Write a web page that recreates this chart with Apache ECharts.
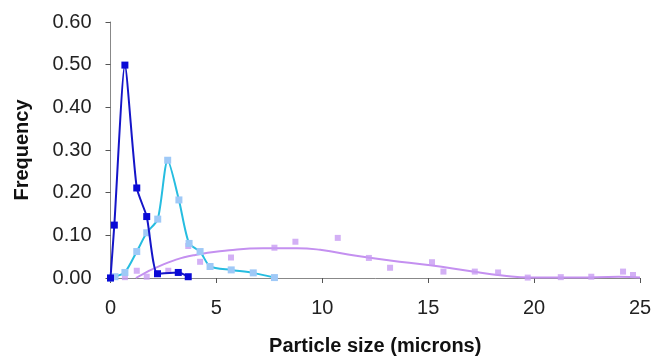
<!DOCTYPE html>
<html>
<head>
<meta charset="utf-8">
<script src="https://cdn.jsdelivr.net/npm/echarts@6/dist/echarts.min.js"></script>
<style>
  html, body { margin: 0; padding: 0; background: #fff; }
  #chart { width: 653px; height: 358px; }
</style>
</head>
<body>
<div id="chart"></div>
<script>
// size (microns), frequency pairs
const darkSeries = [
  [0.0, 0.000], [0.18, 0.124], [0.68, 0.499], [1.24, 0.211],
  [1.71, 0.144], [2.22, 0.010], [3.2, 0.013], [3.67, 0.003]
];
const cyanSeries = [
  [0.0, 0.000], [0.21, 0.003], [0.68, 0.013], [1.24, 0.062],
  [1.71, 0.106], [2.23, 0.138], [2.7, 0.276], [3.23, 0.183],
  [3.71, 0.081], [4.23, 0.062], [4.7, 0.027], [5.7, 0.019],
  [6.74, 0.012], [7.74, 0.001]
];
const purplePoints = [
  [0.68, 0.002], [1.24, 0.017], [1.71, 0.003], [2.73, 0.017],
  [3.67, 0.075], [4.23, 0.038], [5.69, 0.048], [7.74, 0.071],
  [8.73, 0.085], [10.73, 0.094], [12.2, 0.047], [13.2, 0.024],
  [15.18, 0.037], [15.72, 0.015], [17.2, 0.015], [18.3, 0.013],
  [19.7, 0.001], [21.26, 0.002], [22.7, 0.003], [24.2, 0.015],
  [24.67, 0.007]
];
const purpleTrend = [
  [1.2, 0.000], [2.5, 0.032], [4.0, 0.054], [5.6, 0.065],
  [7.2, 0.070], [8.8, 0.070], [9.9, 0.066], [11.6, 0.052],
  [13.2, 0.041], [15.1, 0.030], [17.1, 0.015], [18.5, 0.006],
  [19.8, 0.001], [22.0, 0.001], [24.0, 0.003], [25.0, 0.001]
];

const font = 'Liberation Sans, Arial, sans-serif';
const chart = echarts.init(document.getElementById('chart'));

chart.setOption({
  animation: false,
  grid: { left: 110.5, right: 13, top: 22, bottom: 80, outerBoundsMode: 'none' },
  xAxis: {
    type: 'value', min: 0, max: 25, interval: 5,
    name: 'Particle size (microns)',
    nameLocation: 'middle', nameGap: 58,
    nameTextStyle: { fontFamily: font, fontSize: 20, fontWeight: 'bold', color: '#111' },
    axisLine: { lineStyle: { color: '#888', width: 1 } },
    axisTick: { length: 5, lineStyle: { color: '#555' } },
    axisLabel: { fontFamily: font, fontSize: 20, color: '#222', margin: 20 },
    splitLine: { show: false }
  },
  yAxis: {
    type: 'value', min: 0, max: 0.6, interval: 0.1,
    name: 'Frequency',
    nameLocation: 'middle', nameGap: 78, nameRotate: 90,
    nameTextStyle: { fontFamily: font, fontSize: 20, fontWeight: 'bold', color: '#111' },
    axisLine: { show: true, lineStyle: { color: '#888', width: 1 } },
    axisTick: { show: true, length: 5, lineStyle: { color: '#555' } },
    axisLabel: { fontFamily: font, fontSize: 20, color: '#222', margin: 19,
      formatter: v => v.toFixed(2) },
    splitLine: { show: false }
  },
  series: [
    {
      type: 'line', data: purpleTrend, smooth: true, showSymbol: false,
      lineStyle: { color: '#c490f0', width: 2 }, z: 1
    },
    {
      type: 'scatter', data: purplePoints, symbol: 'rect', symbolSize: 6,
      itemStyle: { color: '#c89cf2' }, z: 2
    },
    {
      type: 'line', data: cyanSeries, smooth: 0.25, symbol: 'rect', symbolSize: 7,
      lineStyle: { color: '#26bde0', width: 2 },
      itemStyle: { color: '#9fc9f7', borderWidth: 0 }, z: 3
    },
    {
      type: 'line', data: darkSeries, smooth: 0.2, symbol: 'rect', symbolSize: 7,
      lineStyle: { color: '#1515c8', width: 2 },
      itemStyle: { color: '#0a0ad6', borderWidth: 0 }, z: 4
    }
  ]
});
</script>
</body>
</html>
